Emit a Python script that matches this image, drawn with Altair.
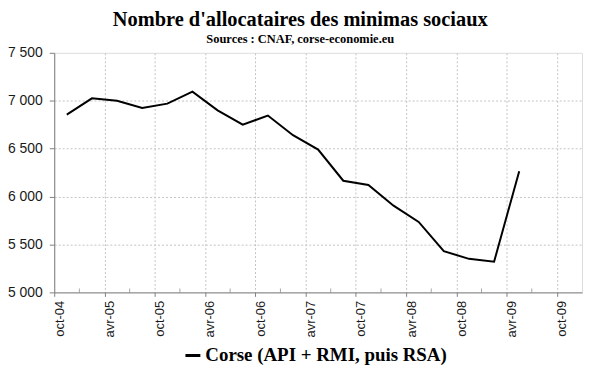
import json
import altair as alt
import pandas as pd

# ---- data ----
quarters = ["oct-04", "janv-05", "avr-05", "juil-05", "oct-05", "janv-06", "avr-06",
            "juil-06", "oct-06", "janv-07", "avr-07", "juil-07", "oct-07", "janv-08",
            "avr-08", "juil-08", "oct-08", "janv-09", "avr-09"]
allocataires = [6855, 7025, 7000, 6925, 6970, 7095, 6900, 6750, 6845, 6640, 6490,
                6165, 6120, 5905, 5735, 5430, 5350, 5320, 6265]
tick_labels = ["oct-04", "avr-05", "oct-05", "avr-06", "oct-06", "avr-07",
               "oct-07", "avr-08", "oct-08", "avr-09", "oct-09"]
y_ticks = [5000, 5500, 6000, 6500, 7000, 7500]
series_name = "Corse (API + RMI, puis RSA)"
title_text = "Nombre d'allocataires des minimas sociaux"
subtitle_text = "Sources : CNAF, corse-economie.eu"

# category axis: 21 quarterly slots (oct-04 .. oct-09), points centred in slots
n_cat = 2 * len(tick_labels) - 1
df = pd.DataFrame({
    "pos": [i + 0.5 for i in range(len(allocataires))],
    "trimestre": quarters,
    "value": allocataires,
    "serie": [series_name] * len(allocataires),
})
major_vals = list(range(0, n_cat, 2))
minor_df = pd.DataFrame({"pos": list(range(1, n_cat, 2)),
                         "value": [y_ticks[0]] * len(range(1, n_cat, 2))})

x_scale = alt.Scale(domain=[0, n_cat], nice=False, zero=False)
y_scale = alt.Scale(domain=[y_ticks[0], y_ticks[-1]], nice=False, zero=False)

x_axis = alt.Axis(
    values=major_vals,
    labelExpr=json.dumps(tick_labels) + "[datum.value / 2]",
    labelAngle=270, labelFont="Liberation Sans", labelFontSize=13, labelColor="#1a1a1a",
    labelPadding=4, labelOffset=5, labelFlush=False, labelOverlap=False,
    tickSize=4, tickColor="#808080", domainColor="#808080",
    grid=True, gridColor="#c4c4c4", gridDash=[2, 2],
    gridOpacity={"condition": {"test": "datum.value == 0", "value": 0}, "value": 1},
    title=None,
)
y_axis = alt.Axis(
    values=y_ticks,
    labelExpr="replace(format(datum.value, ','), ',', ' ')",
    labelFont="Liberation Sans", labelFontSize=14, labelColor="#1a1a1a",
    labelPadding=7, tickSize=5, tickColor="#808080", domainColor="#808080",
    grid=True, gridColor="#c4c4c4", gridDash=[2, 2],
    gridOpacity={"condition": {"test": "datum.value == 5000 || datum.value == 7500",
                               "value": 0}, "value": 1},
    title=None,
)

line = alt.Chart(df).mark_line(strokeWidth=2).encode(
    x=alt.X("pos:Q", scale=x_scale, axis=x_axis),
    y=alt.Y("value:Q", scale=y_scale, axis=y_axis),
    color=alt.Color("serie:N", scale=alt.Scale(range=["black"]),
                    legend=alt.Legend(
                        orient="none", legendX=130, legendY=295, title=None,
                        symbolType="stroke", symbolSize=225, symbolStrokeWidth=3,
                        labelFont="Liberation Serif", labelFontSize=19,
                        labelFontWeight="bold", labelColor="black", labelOffset=3,
                        labelLimit=0, padding=0)),
)

minor = alt.Chart(minor_df).mark_tick(orient="vertical", size=4, thickness=1,
                                      yOffset=-2, color="#808080").encode(
    x=alt.X("pos:Q", scale=x_scale),
    y=alt.Y("value:Q", scale=y_scale),
)

chart = alt.layer(minor, line).properties(
    width=531, height=241,
    autosize=alt.AutoSizeParams(type="none"),
    padding={"left": 46.5, "top": 44, "right": 10, "bottom": 78},
    title=alt.TitleParams(
        text=title_text, subtitle=subtitle_text,
        font="Liberation Serif", fontSize=20.5, fontWeight="bold", color="black",
        subtitleFont="Liberation Serif", subtitleFontSize=12.5,
        subtitleFontWeight="bold", subtitleColor="black",
        anchor="middle", dx=-18, offset=0, subtitlePadding=3,
    ),
).configure_view(
    stroke="#9a9a9a", strokeWidth=1
).configure(background="white")

chart.save("out.html", embed_options={"renderer": "svg", "actions": False})
